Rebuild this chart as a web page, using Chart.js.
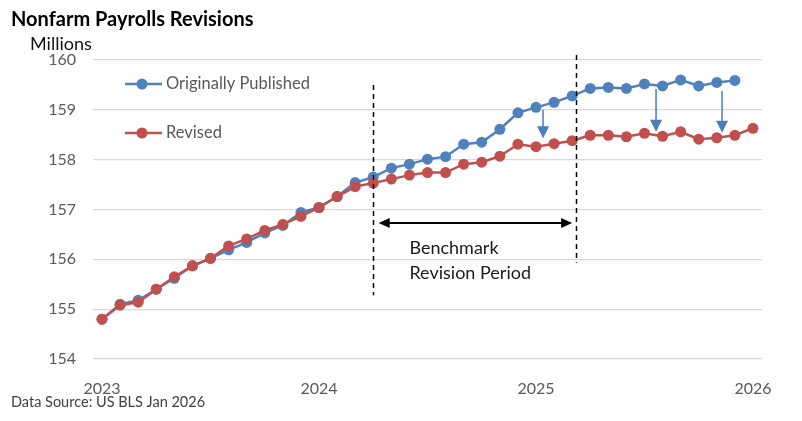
<!DOCTYPE html>
<html>
<head>
<meta charset="utf-8">
<script src="https://cdn.jsdelivr.net/npm/chart.js@4"></script>
<style>
  body { margin: 0; background: #fff; }
  canvas { display: block; }
</style>
</head>
<body>
<canvas id="payrolls" width="802" height="421"></canvas>
<script>
// monthly points, Jan 2023 .. Jan 2026
const months = [
  "Jan 2023", "Feb 2023", "Mar 2023", "Apr 2023", "May 2023", "Jun 2023",
  "Jul 2023", "Aug 2023", "Sep 2023", "Oct 2023", "Nov 2023", "Dec 2023",
  "Jan 2024", "Feb 2024", "Mar 2024", "Apr 2024", "May 2024", "Jun 2024",
  "Jul 2024", "Aug 2024", "Sep 2024", "Oct 2024", "Nov 2024", "Dec 2024",
  "Jan 2025", "Feb 2025", "Mar 2025", "Apr 2025", "May 2025", "Jun 2025",
  "Jul 2025", "Aug 2025", "Sep 2025", "Oct 2025", "Nov 2025", "Dec 2025",
  "Jan 2026"
];

// millions of jobs
const originallyPublished = [
  154.80, 155.10, 155.18, 155.40, 155.62, 155.87, 156.02, 156.19, 156.34, 156.53, 156.68, 156.94,
  157.04, 157.26, 157.54, 157.65, 157.83, 157.91, 158.01, 158.06, 158.31, 158.35, 158.61, 158.94,
  159.05, 159.15, 159.28, 159.43, 159.45, 159.43, 159.52, 159.48, 159.60, 159.48, 159.55, 159.59
];
const revised = [
  154.80, 155.08, 155.14, 155.40, 155.65, 155.87, 156.02, 156.27, 156.41, 156.58, 156.70, 156.86,
  157.04, 157.26, 157.46, 157.53, 157.61, 157.69, 157.74, 157.74, 157.91, 157.95, 158.07, 158.31,
  158.26, 158.32, 158.38, 158.49, 158.49, 158.46, 158.53, 158.47, 158.56, 158.41, 158.44, 158.49,
  158.63
];

const yearLabels = ["2023", "2024", "2025", "2026"];
const yTicks = [154, 155, 156, 157, 158, 159, 160];

const BLUE = "#4f81bd";
const RED = "#c0504d";
const FONT = "Lato, 'Open Sans', sans-serif";

// annotation spots, in chart units (month index, millions)
const benchmarkLines = [
  { at: 15, top: 159.5, bottom: 155.28 },
  { at: 26.2, top: 160.1, bottom: 155.93 }
];
const revisionArrows = [
  { at: 24.39, from: 159.0, to: 158.43 },
  { at: 30.64, from: 159.42, to: 158.56 },
  { at: 34.29, from: 159.38, to: 158.54 }
];

function arrowHead(ctx, x, y, dir, len, half) {
  // dir: unit vector the tip points along
  ctx.beginPath();
  ctx.moveTo(x, y);
  ctx.lineTo(x - dir[0] * len - dir[1] * half, y - dir[1] * len + dir[0] * half);
  ctx.lineTo(x - dir[0] * len + dir[1] * half, y - dir[1] * len - dir[0] * half);
  ctx.closePath();
  ctx.fill();
}

const extras = {
  id: "extras",
  afterDraw(chart) {
    const ctx = chart.ctx;
    const xs = chart.scales.x, ys = chart.scales.y;
    ctx.save();

    // title + axis caption + source
    ctx.textBaseline = "middle";
    ctx.textAlign = "left";
    ctx.fillStyle = "#000";
    ctx.font = "bold 20px " + FONT;
    ctx.fillText("Nonfarm Payrolls Revisions", 11, 20);
    ctx.font = "18px " + FONT;
    ctx.fillStyle = "#111";
    ctx.fillText("Millions", 30, 44);
    ctx.font = "14.5px " + FONT;
    ctx.fillStyle = "#404040";
    ctx.fillText("Data Source: US BLS Jan 2026", 11, 402);

    // legend inside the plot
    const legend = [["Originally Published", BLUE, 84], ["Revised", RED, 133]];
    ctx.font = "16.5px " + FONT;
    legend.forEach(([txt, col, y]) => {
      ctx.strokeStyle = col;
      ctx.lineWidth = 2.5;
      ctx.beginPath();
      ctx.moveTo(125, y);
      ctx.lineTo(162, y);
      ctx.stroke();
      ctx.fillStyle = col;
      ctx.beginPath();
      ctx.arc(142, y, 5.5, 0, Math.PI * 2);
      ctx.fill();
      ctx.fillStyle = "#595959";
      ctx.fillText(txt, 166, y);
    });

    // dashed period markers
    ctx.strokeStyle = "#000";
    ctx.lineWidth = 1.5;
    ctx.setLineDash([5, 4]);
    benchmarkLines.forEach(l => {
      const x = Math.round(xs.getPixelForValue(l.at)) + 0.5;
      ctx.beginPath();
      ctx.moveTo(x, ys.getPixelForValue(l.top));
      ctx.lineTo(x, ys.getPixelForValue(l.bottom));
      ctx.stroke();
    });
    ctx.setLineDash([]);

    // double arrow for the benchmark period
    const ay = ys.getPixelForValue(156.73);
    const ax1 = xs.getPixelForValue(15.3), ax2 = xs.getPixelForValue(26.0);
    ctx.lineWidth = 2;
    ctx.beginPath();
    ctx.moveTo(ax1 + 8, ay);
    ctx.lineTo(ax2 - 8, ay);
    ctx.stroke();
    ctx.fillStyle = "#000";
    arrowHead(ctx, ax1, ay, [-1, 0], 11, 5);
    arrowHead(ctx, ax2, ay, [1, 0], 11, 5);

    ctx.font = "18px " + FONT;
    ctx.fillStyle = "#1a1a1a";
    const tx = xs.getPixelForValue(17);
    ctx.fillText("Benchmark", tx, 248);
    ctx.fillText("Revision Period", tx, 273);

    // blue down arrows, published -> revised
    ctx.strokeStyle = "#4a7ebb";
    ctx.fillStyle = "#4a7ebb";
    ctx.lineWidth = 1.5;
    revisionArrows.forEach(a => {
      const x = xs.getPixelForValue(a.at);
      const y1 = ys.getPixelForValue(a.from), y2 = ys.getPixelForValue(a.to);
      ctx.beginPath();
      ctx.moveTo(x, y1);
      ctx.lineTo(x, y2 - 10);
      ctx.stroke();
      arrowHead(ctx, x, y2, [0, 1], 12, 6);
    });

    ctx.restore();
  }
};

const ctx = document.getElementById("payrolls").getContext("2d");
const chart = new Chart(ctx, {
  type: "line",
  data: {
    labels: months,
    datasets: [
      {
        label: "Revised",
        data: revised,
        borderColor: RED,
        backgroundColor: RED,
        borderWidth: 2.5,
        pointRadius: 5.5,
        pointBorderWidth: 0,
        pointBackgroundColor: RED,
        tension: 0,
      },
      {
        label: "Originally Published",
        data: originallyPublished,
        borderColor: BLUE,
        backgroundColor: BLUE,
        borderWidth: 2.5,
        pointRadius: 5.5,
        pointBorderWidth: 0,
        pointBackgroundColor: BLUE,
        tension: 0,
      },
    ],
  },
  options: {
    responsive: false,
    animation: false,
    layout: { padding: { top: 60, right: 40, bottom: 0, left: 0 } },
    plugins: {
      legend: { display: false },
      title: { display: false },
      tooltip: { enabled: false },
    },
    scales: {
      x: {
        type: "category",
        offset: true,
        grid: { display: false },
        border: { display: false },
        ticks: {
          autoSkip: false,
          maxRotation: 0,
          padding: 12,
          color: "#595959",
          font: { family: FONT, size: 16 },
          callback: (v, i) => (i % 12 === 0 ? yearLabels[i / 12] : null),
        },
        afterFit: s => { s.height = 62; },
      },
      y: {
        min: 154,
        max: 160,
        afterBuildTicks: s => { s.ticks = yTicks.map(v => ({ value: v })); },
        grid: { color: "#d9d9d9", lineWidth: 1.2, drawTicks: false },
        border: { display: false },
        ticks: {
          padding: 17,
          color: "#595959",
          font: { family: FONT, size: 16 },
        },
        afterFit: s => { s.width = 93; },
      },
    },
  },
  plugins: [extras],
});
</script>
</body>
</html>
